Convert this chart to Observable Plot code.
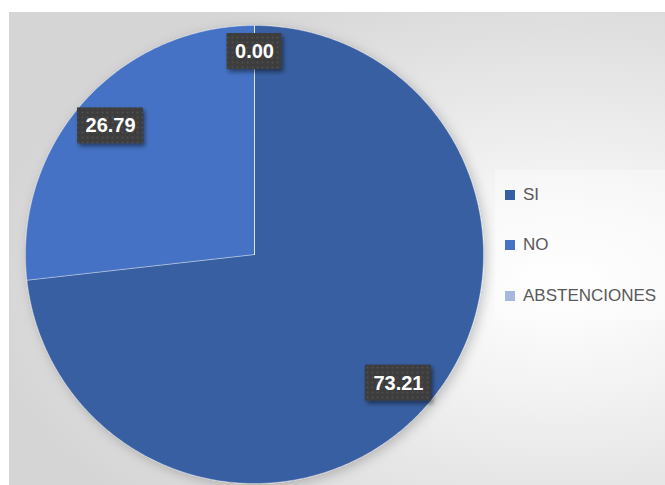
<!DOCTYPE html>
<html><head><meta charset="utf-8">
<script src="https://cdn.jsdelivr.net/npm/d3@7"></script>
<script src="https://cdn.jsdelivr.net/npm/@observablehq/plot@0.6"></script>
<style>
html,body{margin:0;padding:0;background:#fff;width:665px;height:485px;overflow:hidden}
#frame{position:absolute;left:9px;top:12px;width:656px;height:473px;background:radial-gradient(ellipse 580px 330px at 551px 270px,#ffffff 0%,#f4f4f4 30%,#d5d5d5 100%)}
#chart{position:absolute;left:0;top:0}
#legend{position:absolute;left:495px;top:170px;width:170px;height:150px;background:rgba(255,255,255,0.35);font-family:'Liberation Sans',sans-serif;font-size:17px;color:#595959}
.item{position:absolute;left:10px;height:20px;display:flex;align-items:center;white-space:nowrap}
.sw{width:10px;height:10px;margin-right:8px}
</style></head><body>
<div id="frame"></div><div id="chart"></div><div id="legend"></div>
<script>
const categories = ["SI", "NO", "ABSTENCIONES"];
const values = [73.21, 26.79, 0.00];
const colors = ["#375ea2", "#4472c4", "#a7b8de"];

const R = 229, CX = 254, CY = 254;
const arcs = d3.pie().sort(null).value(d => d)(values);

const slices = [];
arcs.forEach((a, i) => {
  const n = Math.max(2, Math.ceil((a.endAngle - a.startAngle) / 0.01));
  slices.push({cat: categories[i], x: 0, y: 0});
  for (let k = 0; k <= n; k++) {
    const t = a.startAngle + (a.endAngle - a.startAngle) * k / n;
    slices.push({cat: categories[i], x: Math.sin(t), y: Math.cos(t)});
  }
  slices.push({cat: categories[i], x: 0, y: 0});
});

const fmt = d3.format(".2f");
const ctx = document.createElement("canvas").getContext("2d");
ctx.font = "bold 20px 'Liberation Sans'";
const labels = arcs.map((a, i) => {
  const text = fmt(values[i]);
  const w = ctx.measureText(text).width + 16, h = 36;
  const mid = (a.startAngle + a.endAngle) / 2;
  const rl = values[i] > 0 ? 0.843 * R : R - h / 2 - 8;
  const x = rl * Math.sin(mid) / R, y = rl * Math.cos(mid) / R;
  const hw = w / 2 / R, hh = h / 2 / R;
  return {text, x, y, x1: x - hw, x2: x + hw, y1: y - hh, y2: y + hh};
});

const chart = Plot.plot({
  width: 665, height: 485,
  margin: 0,
  style: {background: "transparent"},
  x: {domain: [-1, 1], range: [CX - R, CX + R], axis: null},
  y: {domain: [-1, 1], range: [CY + R, CY - R], axis: null},
  color: {domain: categories, range: colors},
  marks: [
    Plot.line(slices, {x: "x", y: "y", z: "cat", fill: "cat", stroke: "rgba(255,255,255,0.35)", strokeWidth: 1}),
    Plot.rect(labels, {x1: "x1", x2: "x2", y1: "y1", y2: "y2", fill: "#3c3c3c"}),
    Plot.rect(labels, {x1: "x1", x2: "x2", y1: "y1", y2: "y2", fill: "none"}),
    Plot.text(labels, {x: "x", y: "y", text: "text", fill: "white", fontWeight: "bold", fontSize: 20, fontFamily: "'Liberation Sans', sans-serif"})
  ]
});
document.getElementById("chart").appendChild(chart);

const svg = d3.select(chart);
const defs = svg.insert("defs", ":first-child");
const ps = defs.append("filter").attr("id", "pieShadow").attr("x", "-20%").attr("y", "-20%").attr("width", "140%").attr("height", "140%");
ps.append("feDropShadow").attr("dx", 3).attr("dy", 3).attr("stdDeviation", 6).attr("flood-color", "#000").attr("flood-opacity", 0.22);
const bs = defs.append("filter").attr("id", "boxShadow").attr("x", "-30%").attr("y", "-30%").attr("width", "160%").attr("height", "160%");
bs.append("feDropShadow").attr("dx", 2).attr("dy", 3).attr("stdDeviation", 2).attr("flood-color", "#000").attr("flood-opacity", 0.45);
const pat = defs.append("pattern").attr("id", "dots").attr("width", 5).attr("height", 5).attr("patternUnits", "userSpaceOnUse");
pat.append("circle").attr("cx", 2.5).attr("cy", 2.5).attr("r", 1).attr("fill", "rgba(255,255,255,0.09)");

svg.select('g[aria-label="line"]').attr("filter", "url(#pieShadow)");
const rectGroups = svg.selectAll('g[aria-label="rect"]').nodes();
d3.select(rectGroups[0]).attr("filter", "url(#boxShadow)");
d3.select(rectGroups[1]).selectAll("rect").attr("fill", "url(#dots)");

const legend = d3.select("#legend");
const tops = [15, 65, 116];
categories.forEach((c, i) => {
  const it = legend.append("div").attr("class", "item").style("top", tops[i] + "px");
  it.append("div").attr("class", "sw").style("background", colors[i]);
  it.append("span").text(c);
});
</script>
</body></html>
